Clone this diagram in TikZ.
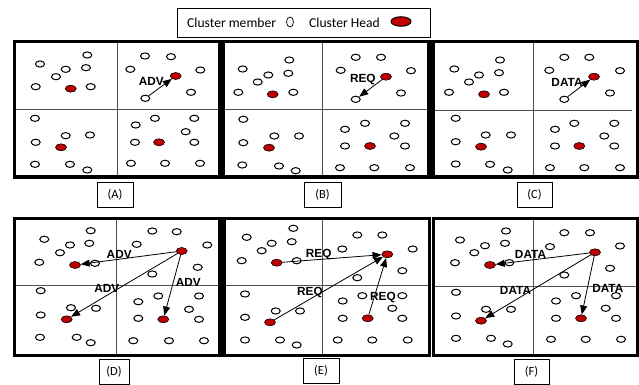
\documentclass[tikz,border=0pt]{standalone}
\usepackage{fontspec}
\setmainfont{Carlito}
\newfontfamily\lblfont{Liberation Sans}
\usetikzlibrary{shapes.geometric,arrows.meta}
\definecolor{chred}{HTML}{C00000}
\definecolor{divgray}{HTML}{505050}
\begin{document}
\begin{tikzpicture}[x=1pt,y=-1pt,
  mem/.style={ellipse,draw,fill=white,minimum width=9pt,minimum height=6.2pt,inner sep=0pt,line width=1pt},
  chead/.style={ellipse,draw,fill=chred,minimum width=11pt,minimum height=7pt,inner sep=0pt,line width=0.6pt},
  frame/.style={line width=3.2pt},
  divider/.style={draw=divgray,line width=0.9pt},
  msg/.style={line width=0.8pt,-{Triangle[length=9pt,width=7pt]}},
  msglbl/.style={font=\lblfont\bfseries\fontsize{11.8}{12}\selectfont,inner sep=0pt},
  caption/.style={draw,line width=0.9pt,minimum width=36pt,minimum height=25pt,inner sep=0pt,font=\fontsize{12.5}{13}\selectfont}]
\useasboundingbox (0,0) rectangle (639,385);
\fill[white] (0,0) rectangle (639,385);

% legend
\draw[line width=0.9pt] (177,8) rectangle (430,37);
\node[anchor=west,inner sep=0pt,font=\fontsize{13.6}{14}\selectfont] (legmem) at (187,22.5) {Cluster member};
\node[ellipse,draw,minimum width=7pt,minimum height=10pt,inner sep=0pt,line width=0.7pt] (legmemsym) at (290,22) {};
\node[anchor=west,inner sep=0pt,font=\fontsize{13.6}{14}\selectfont] (leghead) at (309,22.5) {Cluster Head};
\node[ellipse,draw,fill=chred,minimum width=20pt,minimum height=9.5pt,inner sep=0pt,line width=1pt] (legheadsym) at (401,21.5) {};

% ---------- dividers ----------
\draw[divider] (117,41.7) -- (117,177);  \draw[divider] (14.5,109) -- (219.5,109);
\draw[divider] (322.3,41.7) -- (322.3,177); \draw[divider] (223,109) -- (429,109);
\draw[divider] (533.3,41.7) -- (533.3,177); \draw[divider] (433,110) -- (632,110);
\draw[divider] (116.7,216.5) -- (116.7,355.5); \draw[divider] (14.5,285) -- (220,285);
\draw[divider] (322.3,216.5) -- (322.3,355.5); \draw[divider] (224,285) -- (429.5,285);
\draw[divider] (533.3,216.5) -- (533.3,355.5); \draw[divider] (433.5,286) -- (637.5,286);

% ---------- frames ----------
\draw[frame] (14.5,41.7) rectangle (219.5,177);
\draw[frame] (223,41.7) rectangle (429,177);
\draw[frame] (433,41.7) rectangle (637.5,177);
\draw[frame] (14.5,218.5) rectangle (220,355.5);
\draw[frame] (224,218.5) rectangle (429.5,355.5);
\draw[frame] (433.5,218.5) rectangle (637.5,355.5);

% ---------- Panel A ----------
\foreach \p/\q [count=\i] in {87.3/55,40/64,65.7/69.3,86/67.7,56/76.7,35.7/86.7,90.7/86.7,
  145/56,171/56.7,130.3/69.3,200.3/70,191/92.3,
  35/118.3,65.7/135.7,90/135,35.7/142.3,35/164.3,70/164.3,87.3/170,
  155/118.3,194.3/118.3,135.7/125,185.7/131.7,135/142.3,194.3/142.3,131/163.3,165/163.3,200/163.3}
  \node[mem] (mA\i) at (\p,\q) {};
\node[mem] (A-src) at (145.3,98.3) {};
\node[chead] (A-tl) at (70.7,88.7) {};
\node[chead] (A-tr) at (175.7,76) {};
\node[chead] (A-bl) at (61,147.3) {};
\node[chead] (A-br) at (159,142.3) {};
\draw[msg] (A-src) -- (A-tr);
\node[msglbl] (A-l) at (151.3,81.7) {ADV};

% ---------- Panel B ----------
\foreach \p/\q [count=\i] in {289.3/60,242.7/69,268.3/75,288.3/73.3,257.7/82,238.3/92.3,293.3/92.3,
  355.7/57.3,381/57.3,340.7/70.3,411/70.7,401/93,
  243.3/119.3,274.3/136,299/136,243.3/142.7,242.3/165,279/166,295.7/170.7,
  365/123.3,405/123.3,345/129.3,394.3/136,345/146,405/146,340/167.7,374.3/167.7,410/167.7}
  \node[mem] (mB\i) at (\p,\q) {};
\node[mem] (B-dst) at (355.7,99.3) {};
\node[chead] (B-tl) at (272.7,94.3) {};
\node[chead] (B-tr) at (386,76.7) {};
\node[chead] (B-bl) at (269,147.7) {};
\node[chead] (B-br) at (370,146) {};
\draw[msg] (B-tr) -- (B-dst);
\node[msglbl] (B-l) at (362.8,79.2) {REQ};

% ---------- Panel C ----------
\foreach \p/\q [count=\i] in {500/60,454.3/69,479/75,499/72.7,469/82,449/92.3,504/92.3,
  564.3/57.3,589.3/57.3,549.3/70.3,620/70.7,610/93,
  455.7/118.3,485.7/135,511/135,455.7/141.7,455.7/164,490/164.3,507.7/170,
  574.3/123.3,614.3/123.3,555/129.3,604.3/136,555/146,614.3/146,550/167.7,584.3/167.7,620/167.7}
  \node[mem] (mC\i) at (\p,\q) {};
\node[mem] (C-src) at (564.3,99.3) {};
\node[chead] (C-tl) at (484,94.3) {};
\node[chead] (C-tr) at (594,76.7) {};
\node[chead] (C-bl) at (481,146.7) {};
\node[chead] (C-br) at (579.3,146) {};
\draw[msg] (C-src) -- (C-tr);
\node[msglbl] (C-l) at (567,82.7) {DATA};

% ---------- Panel D ----------
\foreach \p/\q [count=\i] in {90.7/230.7,44.3/239.3,70/245,89.3/243.3,60/252.7,39.3/262.3,95/263.3,
  152.3/231,176.7/231.7,136.7/244.3,207.3/245,197.7/267.3,152.3/274,
  40.7/290.7,71/307.7,96/308.3,40.7/315,40/337.3,76.7/337.3,90.7/342.7,
  158.3/296,199/296,138.3/301.7,189/309.3,138.3/318.3,199/319.3,133.3/340.7,169/340.7,204/340.7}
  \node[mem] (mD\i) at (\p,\q) {};
\node[chead] (D-tl) at (75,265) {};
\node[chead] (D-tr) at (181.7,251) {};
\node[chead] (D-bl) at (66.7,319.3) {};
\node[chead] (D-br) at (163.3,319.3) {};
\draw[msg] (D-tr) -- (D-tl);
\draw[msg] (D-tr) -- (D-bl);
\draw[msg] (D-tr) -- (D-br);
\node[msglbl] (D-l1) at (119.2,254) {ADV};
\node[msglbl] (D-l2) at (106.8,288.3) {ADV};
\node[msglbl] (D-l3) at (188.3,282.5) {ADV};

% ---------- Panel E ----------
\foreach \p/\q [count=\i] in {293.3/228.3,246.7/237.3,271.7/243.3,291.7/241.7,261.7/250.7,241.7/260.7,296.7/260.7,
  357.3/235,382.3/235,342.3/249,412.7/249,402.3/270.7,357.3/277.7,
  245/294,275.7/311,300/311,245/317.3,245/340,280/340,296.7/345,
  362.3/295.7,402.3/295.7,342.7/301,392.3/308.3,342.7/318.3,402.3/318.3,337.7/340,372.3/340,407.7/340}
  \node[mem] (mE\i) at (\p,\q) {};
\node[chead] (E-tl) at (276.7,262.7) {};
\node[chead] (E-tr) at (387.3,254.3) {};
\node[chead] (E-bl) at (270,322.3) {};
\node[chead] (E-br) at (367.7,318.3) {};
\draw[msg] (E-tl) -- (E-tr);
\draw[msg] (E-bl) -- (E-tr);
\draw[msg] (E-br) -- (E-tr);
\node[msglbl] (E-l1) at (318.7,254.7) {REQ};
\node[msglbl] (E-l2) at (310,293) {REQ};
\node[msglbl] (E-l3) at (383,297.2) {REQ};

% ---------- Panel F ----------
\foreach \p/\q [count=\i] in {506/231,460/240,485/245.7,505/243.3,474.3/252.7,455/262.7,509.3/262.7,
  564.3/232.7,590/232.7,550/246.7,620/246,610/268.3,564.3/275,
  456/292.3,486/309.3,511/309.3,456/316,456/338.3,491/338.3,507.7/344,
  576/295.7,616/295.7,556/301,605.7/308.3,556/318.3,616/318.3,551/339.3,585.7/339.3,621/339.3}
  \node[mem] (mF\i) at (\p,\q) {};
\node[chead] (F-tl) at (490,265) {};
\node[chead] (F-tr) at (595,252.3) {};
\node[chead] (F-bl) at (481,320.7) {};
\node[chead] (F-br) at (581,318.3) {};
\draw[msg] (F-tr) -- (F-tl);
\draw[msg] (F-tr) -- (F-bl);
\draw[msg] (F-tr) -- (F-br);
\node[msglbl] (F-l1) at (530.5,254) {DATA};
\node[msglbl] (F-l2) at (515.5,290) {DATA};
\node[msglbl] (F-l3) at (607.8,288.3) {DATA};

% ---------- captions ----------
\node[caption] (capA) at (115,194.5) {(A)};
\node[caption,minimum width=37pt] (capB) at (322.5,194.5) {(B)};
\node[caption,minimum width=35pt] (capC) at (534.5,194.5) {(C)};
\node[caption,minimum width=30pt] (capD) at (114,371.5) {(D)};
\node[caption] (capE) at (321,371) {(E)};
\node[caption,minimum width=35pt] (capF) at (531.5,371.5) {(F)};
\end{tikzpicture}
\end{document}
